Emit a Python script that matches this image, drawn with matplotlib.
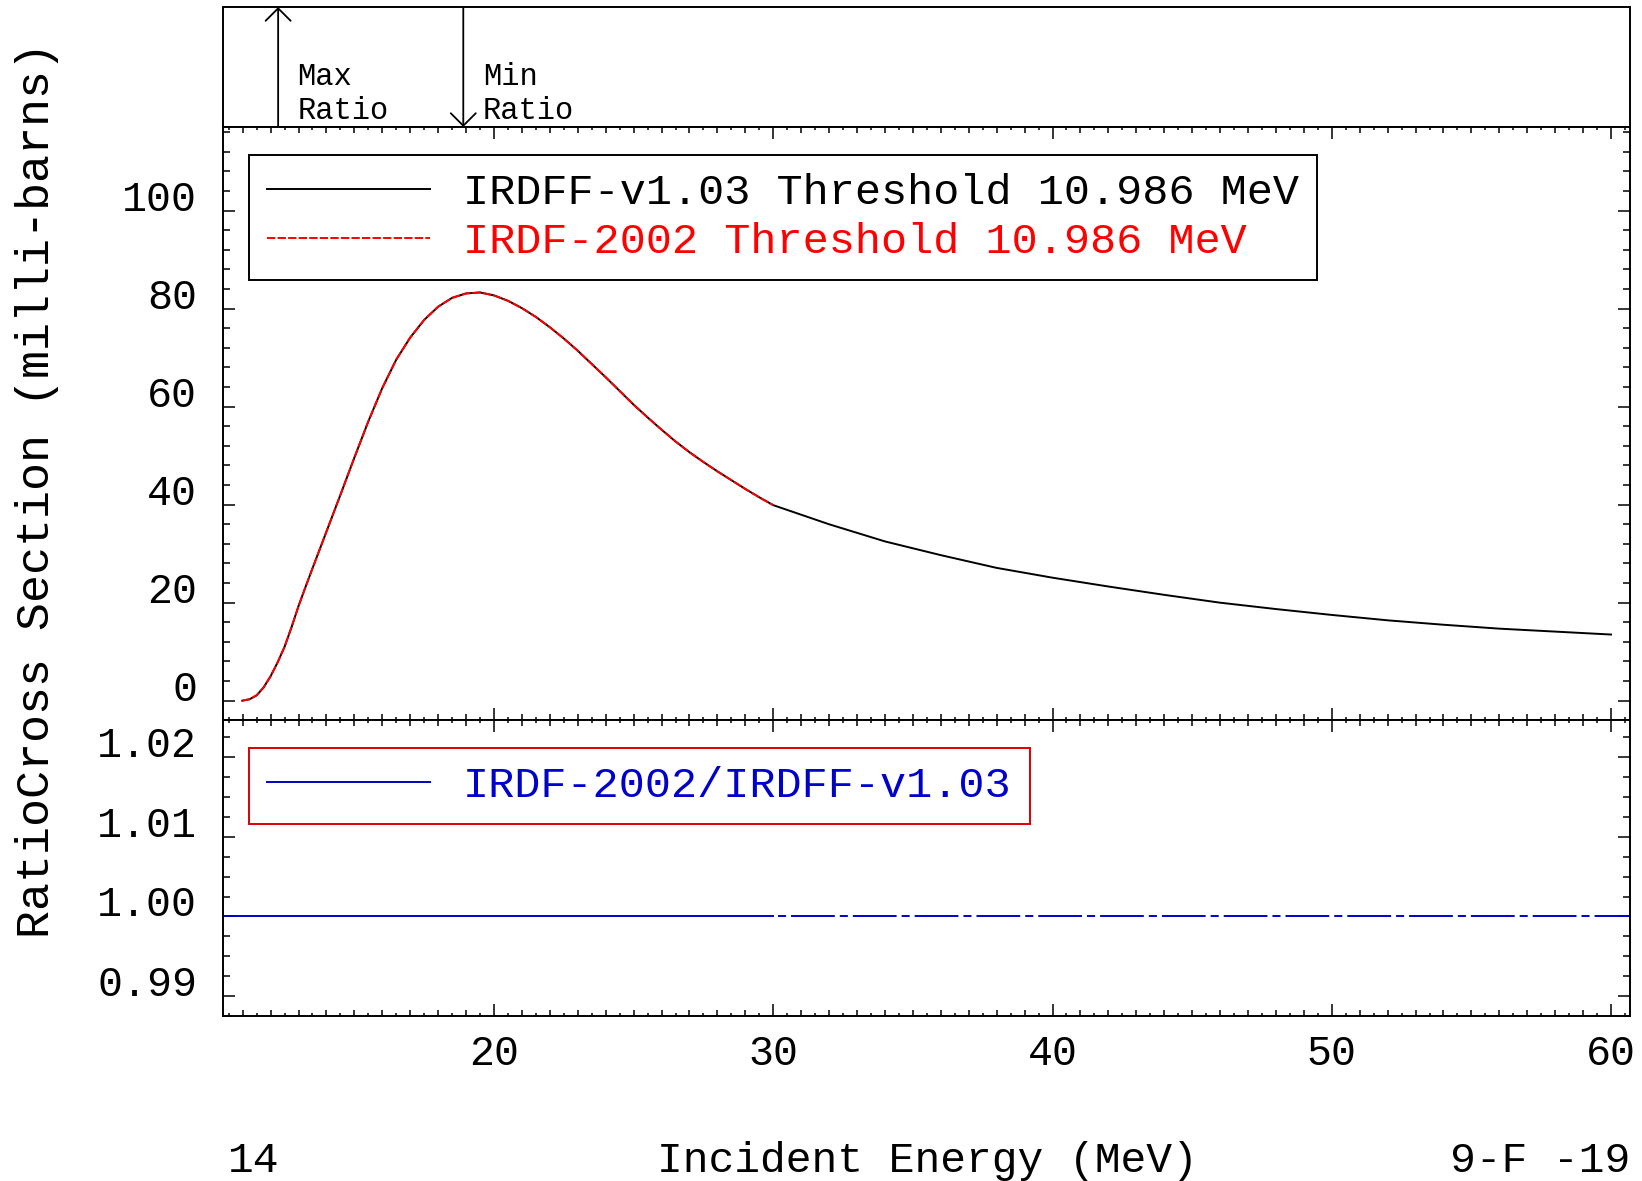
import numpy as np
import matplotlib
matplotlib.use("Agg")
import matplotlib.pyplot as plt
from matplotlib.ticker import MultipleLocator

plt.rcParams['font.family'] = ['Liberation Mono', 'DejaVu Sans Mono']
plt.rcParams['lines.scale_dashes'] = False

# ---------------- data ----------------
# IRDFF-v1.03 cross section, milli-barns
e_irdff = [10.986, 11.25, 11.5, 11.75, 12.0, 12.25, 12.5, 12.75, 13.0, 13.25,
           13.5, 14.0, 14.5, 15.0, 15.5, 16.0, 16.5, 17.0, 17.5, 18.0,
           18.5, 19.0, 19.5, 20.0, 20.5, 21.0, 21.5, 22.0, 22.5, 23.0,
           23.5, 24.0, 24.5, 25.0, 25.5, 26.0, 26.5, 27.0, 27.5, 28.0,
           28.5, 29.0, 29.5, 30.0, 32.0, 34.0, 36.0, 38.0, 40.0, 42.0,
           44.0, 46.0, 48.0, 50.0, 52.0, 54.0, 56.0, 58.0, 60.0]
xs_irdff = [0.0, 0.3, 1.1, 2.7, 5.0, 7.8, 11.0, 15.0, 19.3, 23.2,
            27.0, 34.5, 42.0, 49.6, 57.0, 63.8, 69.6, 74.1, 77.7, 80.4,
            82.2, 83.1, 83.3, 82.7, 81.6, 80.1, 78.3, 76.2, 73.9, 71.4,
            68.7, 66.0, 63.2, 60.4, 57.8, 55.3, 52.9, 50.7, 48.7, 46.8,
            45.0, 43.2, 41.5, 39.9, 36.0, 32.5, 29.7, 27.1, 25.1, 23.3,
            21.6, 20.0, 18.7, 17.5, 16.4, 15.5, 14.7, 14.1, 13.5]

# IRDF-2002 cross section, milli-barns (ends at 30 MeV)
e_irdf = [10.986, 11.25, 11.5, 11.75, 12.0, 12.25, 12.5, 12.75, 13.0, 13.25,
          13.5, 14.0, 14.5, 15.0, 15.5, 16.0, 16.5, 17.0, 17.5, 18.0,
          18.5, 19.0, 19.5, 20.0, 20.5, 21.0, 21.5, 22.0, 22.5, 23.0,
          23.5, 24.0, 24.5, 25.0, 25.5, 26.0, 26.5, 27.0, 27.5, 28.0,
          28.5, 29.0, 29.5, 30.0]
xs_irdf = [0.0, 0.3, 1.1, 2.7, 5.0, 7.8, 11.0, 15.0, 19.3, 23.2,
           27.0, 34.5, 42.0, 49.6, 57.0, 63.8, 69.6, 74.1, 77.7, 80.4,
           82.2, 83.1, 83.3, 82.7, 81.6, 80.1, 78.3, 76.2, 73.9, 71.4,
           68.7, 66.0, 63.2, 60.4, 57.8, 55.3, 52.9, 50.7, 48.7, 46.8,
           45.0, 43.2, 41.5, 39.9]

# ratio IRDF-2002 / IRDFF-v1.03
ratio_e = [10.0, 10.986, 20.0, 30.0]
ratio_v = [1.0, 1.0, 1.0, 1.0]
ratio_e_ext = [30.0, 40.0, 50.0, 60.0, 61.0]
ratio_v_ext = [1.0, 1.0, 1.0, 1.0, 1.0]

max_ratio_e = 12.27
min_ratio_e = 18.9

x_major = [20, 30, 40, 50, 60]
xs_ticks = [0, 20, 40, 60, 80, 100]
ratio_ticks = [0.99, 1.00, 1.01, 1.02]
ratio_labels = ['0.99', '1.00', '1.01', '1.02']

RED = '#ff0000'
BLUE = '#0000cc'
FS = 30
LEG_FS = 31.3

# ---------------- figure ----------------
fig = plt.figure(figsize=(16.42, 11.81), dpi=100)
L, W = 0.1358, 0.8569
ax_top = fig.add_axes([L, 0.89246, W, 0.10161])
ax = fig.add_axes([L, 0.39034, W, 0.50212], sharex=ax_top)
ax_r = fig.add_axes([L, 0.13971, W, 0.25064], sharex=ax_top)

for a in (ax_top, ax, ax_r):
    for s in a.spines.values():
        s.set_linewidth(1.4)

ax_r.set_xlim(10.295, 60.68)
ax_r.set_xticks(x_major)
ax_r.xaxis.set_minor_locator(MultipleLocator(1))


def half_ticks(a):
    # third level of x ticks at every 0.5 MeV
    for side in ('bottom', 'top'):
        sec = a.secondary_xaxis(side)
        sec.set_xticks(np.arange(10.5, 61, 1.0))
        sec.tick_params(axis='x', direction='in', length=2.2, width=1.1,
                        labelbottom=False, labeltop=False)
        for s in sec.spines.values():
            s.set_visible(False)


# top panel: max / min ratio markers
ax_top.set_ylim(0, 1)
ax_top.tick_params(which='both', bottom=False, top=False, left=False,
                   right=False, labelbottom=False, labelleft=False)
arrow = dict(arrowstyle='->,head_length=0.45,head_width=0.45', lw=1.3,
             color='black', shrinkA=0, shrinkB=0, mutation_scale=20)
ax_top.annotate('', xy=(max_ratio_e, 1), xytext=(max_ratio_e, 0),
                xycoords=('data', 'axes fraction'),
                textcoords=('data', 'axes fraction'), arrowprops=arrow)
ax_top.annotate('', xy=(min_ratio_e, 0), xytext=(min_ratio_e, 1),
                xycoords=('data', 'axes fraction'),
                textcoords=('data', 'axes fraction'), arrowprops=arrow)
tr = ax_top.get_xaxis_transform()
ax_top.text(max_ratio_e + 0.68, 0.005, 'Max\nRatio', transform=tr,
            fontsize=22, ha='left', va='bottom', linespacing=1.2)
ax_top.text(min_ratio_e + 0.7, 0.005, 'Min\nRatio', transform=tr,
            fontsize=22, ha='left', va='bottom', linespacing=1.2)

# main panel: cross sections
l_irdff, = ax.plot(e_irdff, xs_irdff, color='black', lw=1.4,
                   label='IRDFF-v1.03 Threshold 10.986 MeV')
l_irdf, = ax.plot(e_irdf, xs_irdf, color=RED, lw=1.4, dashes=(6, 1.6),
                  label='IRDF-2002 Threshold 10.986 MeV')
ax.set_ylim(-3.94, 117.06)
ax.set_yticks(xs_ticks)
ax.yaxis.set_minor_locator(MultipleLocator(4))
ax.tick_params(axis='y', which='major', direction='in', length=8.6, width=1.1,
               left=True, right=True, labelsize=FS, pad=18.5)
ax.tick_params(axis='y', which='minor', direction='in', length=4.8, width=1.1,
               left=True, right=True)
ax.tick_params(axis='x', which='major', direction='in', length=8.6, width=1.1,
               top=True, bottom=True, labelbottom=False)
ax.tick_params(axis='x', which='minor', direction='in', length=4.3, width=1.1,
               top=True, bottom=True)
plt.setp(ax.get_yticklabels(), va='baseline')
half_ticks(ax)

leg1 = ax.legend(handles=[l_irdff, l_irdf], loc='upper left',
                 bbox_to_anchor=(0.0185, 0.9528), borderaxespad=0,
                 fontsize=LEG_FS, handlelength=3.75, handletextpad=0.75,
                 borderpad=0.42, labelspacing=0.2, fancybox=False,
                 framealpha=1, edgecolor='black', labelcolor='linecolor')
leg1.get_frame().set_linewidth(1.4)

# ratio panel
l_ratio, = ax_r.plot(ratio_e, ratio_v, color=BLUE, lw=1.4,
                     label='IRDF-2002/IRDFF-v1.03')
ax_r.plot(ratio_e_ext, ratio_v_ext, color=BLUE, lw=1.4,
          linestyle=(31.5, (31.5, 3.6, 5.8, 3.6)))
ax_r.set_ylim(0.98749, 1.02469)
ax_r.set_yticks(ratio_ticks, labels=ratio_labels)
ax_r.yaxis.set_minor_locator(MultipleLocator(0.0025))
ax_r.tick_params(axis='y', which='major', direction='in', length=8.6,
                 width=1.1, left=True, right=True, labelsize=FS, pad=18.5)
ax_r.tick_params(axis='y', which='minor', direction='in', length=4.8,
                 width=1.1, left=True, right=True)
ax_r.tick_params(axis='x', which='major', direction='in', length=8.6,
                 width=1.1, top=True, bottom=True, labelsize=FS, pad=13)
ax_r.tick_params(axis='x', which='minor', direction='in', length=4.3,
                 width=1.1, top=True, bottom=True)
plt.setp(ax_r.get_yticklabels(), va='baseline')
half_ticks(ax_r)

leg2 = ax_r.legend(handles=[l_ratio], loc='upper left',
                   bbox_to_anchor=(0.0185, 0.9064), borderaxespad=0,
                   fontsize=LEG_FS, handlelength=3.75, handletextpad=0.75,
                   borderpad=0.42, fancybox=False, framealpha=1,
                   edgecolor='#dd0000', labelcolor='linecolor')
leg2.get_frame().set_linewidth(1.4)

# labels
fig.text(0.0223, 0.5850, 'RatioCross Section (milli-barns)', rotation=90,
         fontsize=33.6, ha='center', va='center')
fig.text(0.1389, 0.0076, '14', fontsize=31, ha='left', va='baseline')
fig.text(0.5646, 0.0076, 'Incident Energy (MeV)', fontsize=31, ha='center',
         va='baseline')
fig.text(0.9927, 0.0076, '9-F -19', fontsize=31, ha='right', va='baseline')

fig.savefig('out.png', dpi=100)
